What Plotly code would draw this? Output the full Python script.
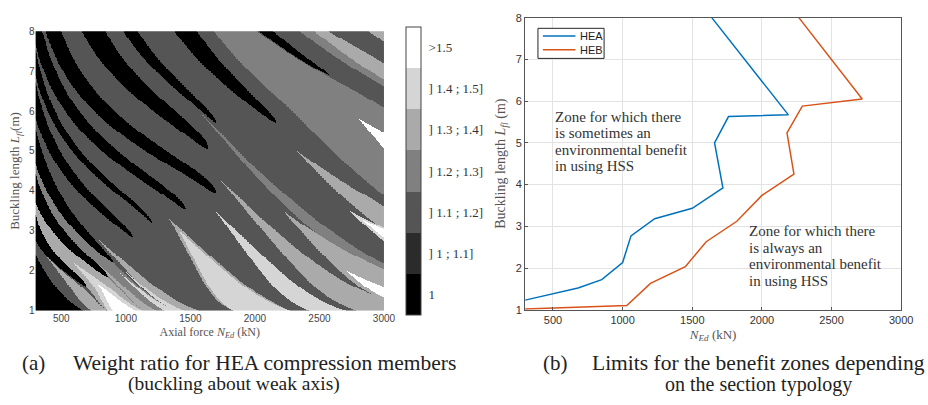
import numpy as np
import plotly.graph_objects as go

# ---------------- Left panel data ----------------
# Band dividers: buckling length L (m) and axial force N (kN) of points on each divider
div_L = [
    [1, 2, 4, 8],
    [1, 1.6, 3, 4, 8],
    [1, 1.83, 4, 8],
    [1, 2.2, 5.05, 8],
    [1, 2.84, 6.2, 8],
    [1, 3.2, 7.17, 8],
    [1, 3.53, 8],
    [1, 3.95, 8],
    [1, 5.05, 8],
    [1, 5.7, 8],
    [1, 3.6, 5.7, 8],
    [1, 4, 6.07, 6.9, 8],
    [1, 4, 7.2, 8],
    [1, 4, 8],
]
div_N = [
    [667, 367, 147, 43],
    [850, 690, 300, 206, 68],
    [1140, 860, 300, 92],
    [1390, 900, 300, 131],
    [1770, 1049, 300, 190],
    [1830, 1202, 300, 249],
    [2270, 1457, 310],
    [2700, 1690, 435],
    [3300, 1630, 746],
    [4200, 1700, 1036],
    [5700, 3000, 2166, 1463],
    [9000, 4000, 3000, 2573, 2088],
    [12000, 6000, 3000, 2600],
    [15000, 7500, 3300],
]
# base ratio class of each band between dividers (0 = "1" ... 6 = ">1.5")
gap_level = [0, 2, 4, 3, 2, 2, 2, 2, 2, 2, 2, 2, 2, 2, 2]
# lighter wedges inside bands: band, centre fraction, half width at L=1, tip L, class
wedge_gap = [1, 2, 2, 3, 3, 4, 4, 6, 6, 7, 8, 9, 9, 9, 10, 10, 10, 11, 11, 12, 12, 13]
wedge_fc = [.69, .5, .5, .2, .83, .24, .08, .5, .5, .68, .6, .85, .5, .25, .85, .55, .55, .65, .72, .72, .85, .8]
wedge_w1 = [.31, .45, .3, .2, .17, .24, .09, .55, .5, .32, .45, .35, .6, .3, .5, .5, .45, .7, .68, .5, .8, 1.0]
wedge_tip = [2.4, 2.2, 1.66, 2.5, 2.0, 2.8, 2.0, 3.3, 3.0, 3.5, 4.3, 6.0, 3.5, 2.0, 5.0, 3.5, 3.3, 12, 5.8, 12, 9, 12]
wedge_lev = [4, 5, 6, 4, 5, 4, 5, 4, 5, 5, 4, 3, 4, 6, 4, 5, 6, 3, 6, 3, 4, 4]
# black (ratio = 1) wedges along dividers: divider, half width at L=8, tip L
black_div = [1, 2, 3, 4, 5, 6, 7, 8, 9, 10, 11]
black_hw8 = [.314, .249, .205, .157, .09, .13, .139, .122, .055, .06, .026]
black_tip = [1.6, 1.83, 2.2, 2.84, 3.2, 3.53, 3.95, 5.05, 5.7, 5.7, 6.9]

cb_labels = ["1", "] 1 ; 1.1]", "] 1.1 ; 1.2]", "] 1.2 ; 1.3]",
             "] 1.3 ; 1.4]", "] 1.4 ; 1.5]", ">1.5"]
grays = ['#000000', '#2b2b2b', '#555555', '#808080', '#aaaaaa', '#d5d5d5', '#ffffff']

# ---------------- Right panel data ----------------
HEA_N = [300, 500, 680, 850, 1000, 1060, 1230, 1500, 1720, 1660, 1760, 2190, 1640]
HEA_L = [1.23, 1.38, 1.52, 1.72, 2.13, 2.77, 3.18, 3.43, 3.92, 5.0, 5.63, 5.67, 8.0]
HEB_N = [300, 1030, 1200, 1450, 1600, 1820, 2000, 2230, 2180, 2290, 2720, 2265]
HEB_L = [1.02, 1.1, 1.63, 2.03, 2.63, 3.12, 3.74, 4.25, 5.24, 5.88, 6.05, 8.0]


def pchip(x, y, xq):
    """Shape-preserving cubic through the read points (rendering of smooth borders)."""
    x = np.asarray(x, float)
    y = np.asarray(y, float)
    h = np.diff(x)
    dl = np.diff(y) / h
    n = len(x)
    d = np.zeros(n)
    d[0], d[-1] = dl[0], dl[-1]
    for k in range(1, n - 1):
        if dl[k - 1] * dl[k] > 0:
            w1 = 2 * h[k] + h[k - 1]
            w2 = h[k] + 2 * h[k - 1]
            d[k] = (w1 + w2) / (w1 / dl[k - 1] + w2 / dl[k])
    idx = np.clip(np.searchsorted(x, xq) - 1, 0, n - 2)
    t = (xq - x[idx]) / h[idx]
    h00 = 2 * t**3 - 3 * t**2 + 1
    h10 = t**3 - 2 * t**2 + t
    h01 = -2 * t**3 + 3 * t**2
    h11 = t**3 - t**2
    return h00 * y[idx] + h10 * h[idx] * d[idx] + h01 * y[idx + 1] + h11 * h[idx] * d[idx + 1]


# ---------------- build the ratio map ----------------
Ls = np.linspace(1, 8, 289)
Ns = np.linspace(300, 3000, 541)
lnL = np.log(Ls)
lnN = np.log(Ns)[None, :]
D = np.array([pchip(np.log(la), np.log(na), lnL) for la, na in zip(div_L, div_N)])
nd, nL = D.shape
gidx = (D[:, :, None] < lnN[None, :, :]).sum(axis=0)
rows = np.arange(nL)[:, None]
lo = D[np.clip(gidx - 1, 0, nd - 1), rows]
hi = D[np.clip(gidx, 0, nd - 1), rows]
f = (lnN - lo) / np.where(hi - lo == 0, 1, hi - lo)
z = np.array(gap_level)[gidx].astype(float)
for g, fc, w1, t, lev in zip(wedge_gap, wedge_fc, wedge_w1, wedge_tip, wedge_lev):
    hw = w1 * (t - Ls) / (t - 1)
    m = (gidx == g) & (np.abs(f - fc) < hw[:, None])
    z[m] = lev
for d, h8, t in zip(black_div, black_hw8, black_tip):
    hw = np.where(Ls > t, h8 * (np.clip(Ls - t, 0, None) / (8 - t)) ** 0.55, -1)
    m = np.abs(lnN - D[d][:, None]) < hw[:, None]
    z[m] = 0

cs = []
for i, c in enumerate(grays):
    cs.append([i / 7, c])
    cs.append([(i + 1) / 7, c])

W, H = 928, 405
def px(x):
    return x / W
def py(y):
    return (H - y) / H

def it(s, size):
    return '<span style="font-style:italic;font-size:%gpx">%s</span>' % (size, s)

fig = go.Figure()
fig.add_trace(go.Heatmap(
    x=Ns, y=Ls, z=z, zmin=-0.5, zmax=6.5, colorscale=cs, hoverinfo='skip',
    xaxis='x', yaxis='y', showscale=True,
    colorbar=dict(tickmode='array', tickvals=list(range(7)), ticktext=cb_labels,
                  x=px(411), xanchor='left', y=py(170), yanchor='middle',
                  len=288, lenmode='pixels', thickness=15, thicknessmode='pixels',
                  outlinewidth=1, outlinecolor='#444', ticks='outside', ticklen=5,
                  tickcolor='rgba(0,0,0,0)', xpad=0, ypad=0,
                  tickfont=dict(family='Liberation Serif', size=13, color='#333'))))
fig.add_trace(go.Scatter(x=HEA_N, y=HEA_L, mode='lines', name='HEA', showlegend=False,
                         line=dict(color='#0072BD', width=1.5), xaxis='x2', yaxis='y2'))
fig.add_trace(go.Scatter(x=HEB_N, y=HEB_L, mode='lines', name='HEB', showlegend=False,
                         line=dict(color='#D95319', width=1.5), xaxis='x2', yaxis='y2'))

tick_x = [500, 1000, 1500, 2000, 2500, 3000]
tick_y = [1, 2, 3, 4, 5, 6, 7, 8]
serif = 'Liberation Serif'
sans = 'Liberation Sans'

fig.update_layout(
    width=W, height=H, margin=dict(l=0, r=0, t=0, b=0),
    paper_bgcolor='white', plot_bgcolor='white',
    font=dict(family=sans, color='#333'),
    xaxis=dict(domain=[px(36), px(389)], range=[300, 3000], tickvals=tick_x,
               showgrid=False, zeroline=False, ticks='', showline=False,
               tickfont=dict(size=10, color='#444'),
               title=dict(text='Axial force ' + it('N', 12) + '<sub>' + it('Ed', 8.4) + '</sub> (kN)',
                          font=dict(family=serif, size=12, color='#555'), standoff=4)),
    yaxis=dict(domain=[py(314), py(26)], range=[1, 8], tickvals=tick_y,
               showgrid=False, zeroline=False, ticks='', showline=False,
               tickfont=dict(size=10, color='#444'),
               title=dict(text='Buckling length ' + it('L', 13) + '<sub>' + it('fl', 9.1) + '</sub>(m)',
                          font=dict(family=serif, size=13, color='#555'), standoff=6)),
    xaxis2=dict(domain=[px(532), px(913)], range=[300, 3000], tickvals=tick_x,
                anchor='y2', showgrid=True, gridcolor='#e3e3e3', zeroline=False,
                showline=True, mirror=True, linecolor='#555', linewidth=1,
                ticks='inside', ticklen=3, tickcolor='#555',
                tickfont=dict(size=11, color='#333'),
                title=dict(text=it('N', 13) + '<sub>' + it('Ed', 9.1) + '</sub> (kN)',
                           font=dict(family=serif, size=13, color='#555'), standoff=4)),
    yaxis2=dict(domain=[py(313), py(12)], range=[1, 8], tickvals=tick_y,
                anchor='x2', showgrid=True, gridcolor='#e3e3e3', zeroline=False,
                showline=True, mirror=True, linecolor='#555', linewidth=1,
                ticks='inside', ticklen=3, tickcolor='#555',
                tickfont=dict(size=11, color='#333'),
                title=dict(text='Buckling length ' + it('L', 14) + '<sub>' + it('fl', 9.8) + '</sub> (m)',
                           font=dict(family=serif, size=14, color='#555'), standoff=6)),
    showlegend=False,
)

# legend box of the right panel
legend_names = ['HEA', 'HEB']
legend_colors = ['#0072BD', '#D95319']
shapes = [dict(type='rect', xref='paper', yref='paper', x0=px(545), x1=px(612),
               y0=py(54), y1=py(23), line=dict(color='#262626', width=1),
               fillcolor='white', layer='above')]
ann = []
def text(x, y, s, size, xanchor='left', family=serif, color='#222'):
    ann.append(dict(x=px(x), y=py(y), xref='paper', yref='paper', text=s,
                    showarrow=False, xanchor=xanchor, yanchor='middle',
                    font=dict(family=family, size=size, color=color)))
for i, (nm, col) in enumerate(zip(legend_names, legend_colors)):
    yy = 31 + 14 * i
    shapes.append(dict(type='line', xref='paper', yref='paper', x0=px(550), x1=px(583),
                       y0=py(yy), y1=py(yy), line=dict(color=col, width=1.5), layer='above'))
    text(586, yy, nm, 11, family=sans, color='#222')

zone1 = ['Zone for which there', 'is sometimes an', 'environmental benefit', 'in using HSS']
zone2 = ['Zone for which there', 'is always an', 'environmental benefit', 'in using HSS']
for i, s in enumerate(zone1):
    text(560, 114 + 17 * i, s, 15, color='#333')
for i, s in enumerate(zone2):
    text(757, 232 + 17 * i, s, 15, color='#333')

text(20, 368, '(a)', 21)
text(72, 368, 'Weight ratio for HEA compression members', 21.5)
text(237, 390, '(buckling about weak axis)', 19.5, xanchor='center')
text(548, 368, '(b)', 21)
text(598, 368, 'Limits for the benefit zones depending', 21.5)
text(768, 390, 'on the section typology', 20, xanchor='center')
fig.update_layout(annotations=ann, shapes=shapes)

fig.write_html('out.html')
